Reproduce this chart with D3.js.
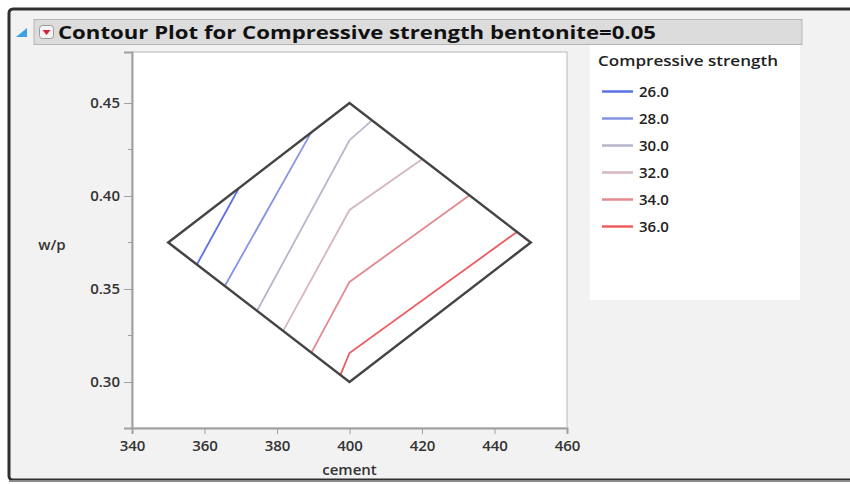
<!DOCTYPE html>
<html>
<head>
<meta charset="utf-8">
<script src="https://cdn.jsdelivr.net/npm/d3@7"></script>
<style>
  html, body { margin: 0; padding: 0; background: #ffffff; }
  svg { display: block; font-family: "Open Sans", "Noto Sans", sans-serif; }
</style>
</head>
<body>
<div id="chart"></div>
<script>
// chart values
var titleText = "Contour Plot for Compressive strength bentonite=0.05";
var xLabel = "cement";
var yLabel = "w/p";
var legendTitle = "Compressive strength";

var xTicks = [340, 360, 380, 400, 420, 440, 460];
var yTicks = [0.30, 0.35, 0.40, 0.45];
var yMinorTicks = [0.325, 0.375, 0.425];

// design region (cement, w/p)
var regionCement = [350, 400, 450, 400];
var regionWp = [0.375, 0.45, 0.375, 0.30];

// contour levels and their polylines [cement, w/p]
var levels = [26, 28, 30, 32, 34, 36];
var contour26 = [[357.9, 0.3632], [369.5, 0.4043]];
var contour28 = [[365.6, 0.3516], [389.4, 0.4341]];
var contour30 = [[374.5, 0.3383], [400.0, 0.4300], [406.2, 0.4407]];
var contour32 = [[381.7, 0.3275], [400.0, 0.3925], [420.1, 0.4199]];
var contour34 = [[389.5, 0.3158], [400.0, 0.3538], [433.1, 0.4004]];
var contour36 = [[397.5, 0.3038], [400.0, 0.3156], [446.2, 0.3807]];
var contours = [contour26, contour28, contour30, contour32, contour34, contour36];

var lineColors = ["#5d70e4", "#8593e6", "#b6b6cc", "#d6b6bf", "#e38a8f", "#ec5c60"];

var svgWidth = 850;
var svgHeight = 484;

// plot frame in pixels
var plot = { left: 132, right: 567, top: 52, bottom: 428 };

var svg = d3.select("#chart")
  .append("svg")
  .attr("width", svgWidth)
  .attr("height", svgHeight);

// window frame
svg.append("rect")
  .attr("x", 9).attr("y", 9)
  .attr("width", svgWidth + 20).attr("height", 471)
  .attr("rx", 4)
  .attr("fill", "#f2f2f2")
  .attr("stroke", "#303030")
  .attr("stroke-width", 3);

svg.append("line")
  .attr("x1", 9).attr("x2", svgWidth)
  .attr("y1", 481).attr("y2", 481)
  .attr("stroke", "#8a8a8a")
  .attr("stroke-width", 2);

// title bar
svg.append("rect")
  .attr("x", 34).attr("y", 19.5)
  .attr("width", 768).attr("height", 25)
  .attr("fill", "#dcdcdc")
  .attr("stroke", "#b4b4b4");

// blue disclosure triangle
svg.append("path")
  .attr("d", "M16,37 L27,37 L27,28 Z")
  .attr("fill", "#3aa0e8");

// red dropdown button
svg.append("rect")
  .attr("x", 39.5).attr("y", 25.5)
  .attr("width", 14).attr("height", 13)
  .attr("rx", 3)
  .attr("fill", "#f4f4f4")
  .attr("stroke", "#9a9a9a");
svg.append("path")
  .attr("d", "M42.5,30 L50.5,30 L46.5,35 Z")
  .attr("fill", "#d8203a");

svg.append("text")
  .attr("x", 58).attr("y", 39)
  .attr("font-size", 18)
  .attr("font-weight", "bold")
  .attr("fill", "#111")
  .attr("textLength", 598)
  .attr("lengthAdjust", "spacingAndGlyphs")
  .text(titleText);

// scales
var xScale = d3.scaleLinear()
  .domain([340, 460])
  .range([plot.left, plot.right]);

var yScale = d3.scaleLinear()
  .domain([0.27527, 0.47742])
  .range([plot.bottom, plot.top]);

// plot background
svg.append("rect")
  .attr("x", plot.left).attr("y", plot.top)
  .attr("width", plot.right - plot.left)
  .attr("height", plot.bottom - plot.top)
  .attr("fill", "#ffffff")
  .attr("stroke", "#b8b8b8")
  .attr("stroke-width", 1);

// axes
var bottomAxis = d3.axisBottom(xScale)
  .tickValues(xTicks)
  .tickSize(6)
  .tickPadding(6)
  .tickFormat(d3.format("d"));

var leftAxis = d3.axisLeft(yScale)
  .tickValues(yTicks)
  .tickSize(8)
  .tickPadding(4)
  .tickFormat(d3.format(".2f"));

var xAxisG = svg.append("g")
  .attr("transform", "translate(0," + plot.bottom + ")")
  .call(bottomAxis);

var yAxisG = svg.append("g")
  .attr("transform", "translate(" + plot.left + ",0)")
  .call(leftAxis);

// minor ticks on w/p axis
svg.append("g")
  .selectAll("line")
  .data(yMinorTicks)
  .enter()
  .append("line")
  .attr("x1", plot.left - 4).attr("x2", plot.left)
  .attr("y1", d => yScale(d)).attr("y2", d => yScale(d))
  .attr("stroke", "#a0a0a0");

[xAxisG, yAxisG].forEach(function(g) {
  g.select(".domain").attr("stroke", "#a0a0a0").attr("stroke-width", 2);
  g.selectAll(".tick line").attr("stroke", "#a0a0a0");
  g.selectAll(".tick text")
    .attr("fill", "#333")
    .attr("font-size", 15)
    .attr("font-weight", 600)
    .attr("font-family", "\"Open Sans\", sans-serif");
});

// axis labels
svg.append("text")
  .attr("x", xScale(400)).attr("y", 475)
  .attr("text-anchor", "middle")
  .attr("font-size", 15)
  .attr("font-weight", 600)
  .attr("fill", "#333")
  .text(xLabel);

svg.append("text")
  .attr("x", 52).attr("y", 250)
  .attr("text-anchor", "middle")
  .attr("font-size", 15)
  .attr("font-weight", 600)
  .attr("fill", "#333")
  .text(yLabel);

// contour lines
var line = d3.line()
  .x(d => xScale(d[0]))
  .y(d => yScale(d[1]));

svg.append("g")
  .selectAll("path")
  .data(contours)
  .enter()
  .append("path")
  .attr("d", line)
  .attr("fill", "none")
  .attr("stroke", (d, i) => lineColors[i])
  .attr("stroke-width", 1.8);

// design region outline
var regionPts = regionCement.map((c, i) => [c, regionWp[i]]);
svg.append("path")
  .attr("d", line(regionPts) + "Z")
  .attr("fill", "none")
  .attr("stroke", "#444444")
  .attr("stroke-width", 2.5)
  .attr("stroke-linejoin", "miter");

// legend
svg.append("rect")
  .attr("x", 590).attr("y", 45)
  .attr("width", 210).attr("height", 255)
  .attr("fill", "#ffffff");

svg.append("text")
  .attr("x", 598).attr("y", 66)
  .attr("font-size", 14)
  .attr("font-weight", 600)
  .attr("fill", "#222")
  .attr("textLength", 180)
  .attr("lengthAdjust", "spacingAndGlyphs")
  .text(legendTitle);

var legendItems = svg.append("g")
  .selectAll("g")
  .data(levels)
  .enter()
  .append("g")
  .attr("transform", (d, i) => "translate(0," + (91.5 + i * 27) + ")");

legendItems.append("line")
  .attr("x1", 602).attr("x2", 633)
  .attr("y1", 0).attr("y2", 0)
  .attr("stroke", (d, i) => lineColors[i])
  .attr("stroke-width", 2.5);

legendItems.append("text")
  .attr("x", 639).attr("y", 5.5)
  .attr("font-size", 15)
  .attr("font-weight", 600)
  .attr("fill", "#222")
  .text(d => d3.format(".1f")(d));
</script>
</body>
</html>
